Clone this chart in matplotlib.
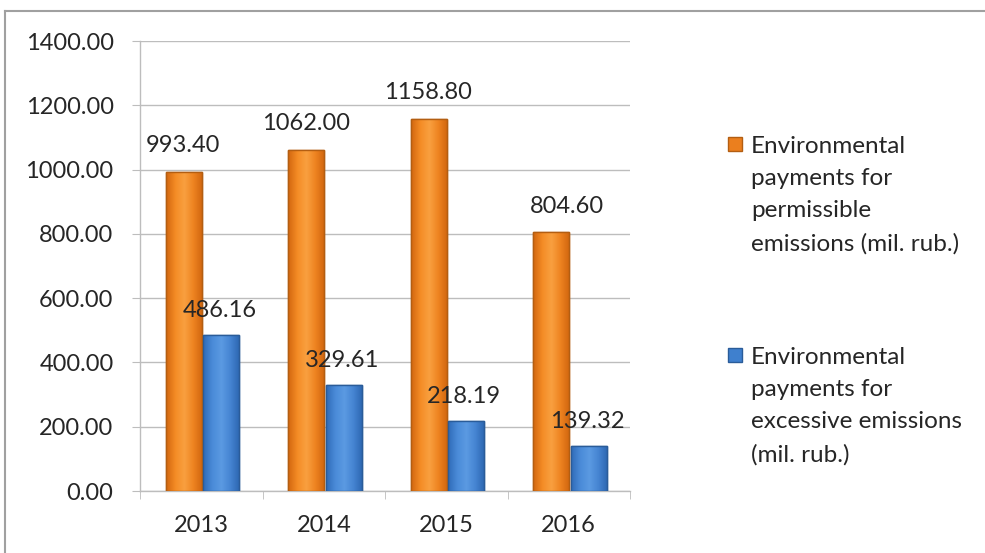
import matplotlib
matplotlib.use("Agg")
import matplotlib.pyplot as plt
import numpy as np
from matplotlib.patches import Rectangle
from matplotlib.lines import Line2D
from matplotlib.colors import LinearSegmentedColormap

plt.rcParams["font.family"] = ["Lato", "DejaVu Sans"]

years = ["2013", "2014", "2015", "2016"]
permissible = [993.40, 1062.00, 1158.80, 804.60]
excessive = [486.16, 329.61, 218.19, 139.32]
series_names = ["Environmental\npayments for\npermissible\nemissions (mil. rub.)",
                "Environmental\npayments for\nexcessive emissions\n(mil. rub.)"]

orange = "#EB7F1E"
orange_edge = "#B35E12"
blue = "#3F80CE"
blue_edge = "#2A5C99"
text_col = "#262626"
grid_col = "#BDBDBD"
fs = 17

fig = plt.figure(figsize=(9.85, 5.53), dpi=100)
ax = fig.add_axes([140 / 985, 62 / 553, 490 / 985, 450 / 553])

x = np.arange(len(years))
w = 0.295
b1 = ax.bar(x - w / 2 + 0.005, permissible, w, color=orange, edgecolor=orange_edge, linewidth=1, zorder=3)
b2 = ax.bar(x + w / 2 + 0.015, excessive, w, color=blue, edgecolor=blue_edge, linewidth=1, zorder=3)

# horizontal shading inside the bars
cm_or = LinearSegmentedColormap.from_list("or", ["#D2670F", "#F48C25", "#F9A040", "#EE8320", "#D0650E"])
cm_bl = LinearSegmentedColormap.from_list("bl", ["#2F6BB8", "#4A8BD8", "#5B9AE2", "#4584D2", "#2C66B0"])
grad = np.linspace(0, 1, 64).reshape(1, -1)
for bars, cm in [(b1, cm_or), (b2, cm_bl)]:
    for p in bars:
        x0, y0 = p.get_x(), p.get_y()
        im = ax.imshow(grad, cmap=cm, aspect="auto", zorder=3.1,
                       extent=[x0, x0 + p.get_width(), y0, y0 + p.get_height()])
        im.set_clip_path(p)
        edge = Rectangle((x0, y0), p.get_width(), p.get_height(), fill=False,
                         edgecolor=p.get_edgecolor(), linewidth=1, zorder=3.2)
        ax.add_patch(edge)

# value labels
for i, v in enumerate(permissible):
    dx = 12 if i == 3 else 0
    ax.annotate(f"{v:.2f}", (x[i] - w / 2, v), xytext=(dx, 11), textcoords="offset points",
                ha="center", va="bottom", fontsize=fs, color=text_col, zorder=4)
for i, v in enumerate(excessive):
    ax.annotate(f"{v:.2f}", (x[i] + w / 2, v), xytext=(0, 10), textcoords="offset points",
                ha="center", va="bottom", fontsize=fs, color=text_col, zorder=4)

ax.set_xlim(-0.5, len(years) - 0.5)
ax.set_ylim(0, 1400)
ax.set_yticks(np.arange(0, 1401, 200))
ax.set_yticklabels([f"{t:.2f}" for t in np.arange(0, 1401, 200)])
ax.set_xticks(x)
ax.set_xticklabels(years)
ax.set_xticks(np.arange(-0.5, len(years)), minor=True)
ax.tick_params(axis="x", which="major", length=0, pad=17, labelsize=fs, labelcolor=text_col)
ax.tick_params(axis="x", which="minor", length=6, color=grid_col, direction="out")
ax.tick_params(axis="y", length=6, color=grid_col, pad=13, labelsize=fs, labelcolor=text_col)

ax.grid(axis="y", color=grid_col, linewidth=1, zorder=0)
for s in ["top", "right"]:
    ax.spines[s].set_visible(False)
for s in ["left", "bottom"]:
    ax.spines[s].set_color(grid_col)
    ax.spines[s].set_linewidth(1)

# outer chart frame
fig.add_artist(Line2D([5 / 985, 5 / 985], [0, 1 - 11 / 553], transform=fig.transFigure,
                      color="#A0A0A0", linewidth=1.5))
fig.add_artist(Line2D([5 / 985, 1], [1 - 11 / 553, 1 - 11 / 553], transform=fig.transFigure,
                      color="#A0A0A0", linewidth=1.5))

# legend drawn by hand so markers sit on the first line
legend_items = [(series_names[0], orange, orange_edge, 144),
                (series_names[1], blue, blue_edge, 355)]
for label, fc, ec, ytop in legend_items:
    fig.add_artist(Rectangle((728 / 985, 1 - (ytop + 7) / 553), 14 / 985, 14 / 553,
                             transform=fig.transFigure, facecolor=fc, edgecolor=ec, linewidth=1))
    fig.text(751 / 985, 1 - (ytop - 8) / 553, label, fontsize=17.5, color=text_col,
             va="top", ha="left", linespacing=1.66)

fig.savefig("out.png", dpi=100)
